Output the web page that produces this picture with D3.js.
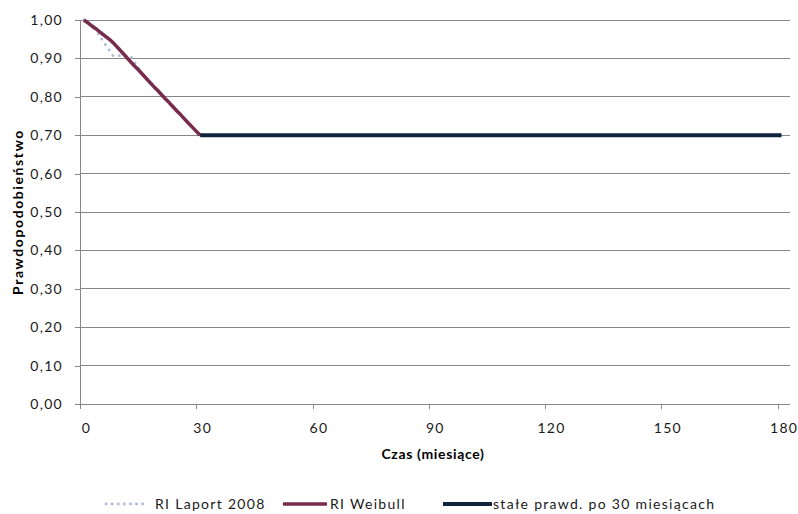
<!DOCTYPE html>
<html>
<head>
<meta charset="utf-8">
<script src="https://cdn.jsdelivr.net/npm/d3@7"></script>
<style>
  html, body { margin: 0; padding: 0; background: #ffffff; }
  svg { display: block; font-family: Lato, "Open Sans", sans-serif; }
</style>
</head>
<body>
<svg id="chart" width="798" height="514"></svg>
<script>
// Survival probability over time (months)
const weibullMonths = [1,2,3,4,5,6,7,8,9,10,11,12,13,14,15,16,17,18,19,20,21,22,23,24,25,26,27,28,29,30,31];
const weibullValues = [1.000,0.993,0.985,0.978,0.970,0.962,0.954,0.946,0.936,0.925,0.914,0.903,0.892,0.881,0.871,0.860,0.849,0.838,0.827,0.817,0.806,0.795,0.785,0.774,0.763,0.753,0.742,0.731,0.721,0.710,0.700];

const laportMonths = [1, 4, 5.5, 8.5, 13, 16, 20, 24, 28, 31];
const laportValues = [1.000, 0.975, 0.952, 0.907, 0.907, 0.860, 0.817, 0.774, 0.731, 0.700];

const constMonths = [31, 181];
const constValues = [0.70, 0.70];

const xTicks = [0, 30, 60, 90, 120, 150, 180];
const yTicks = [0, 0.1, 0.2, 0.3, 0.4, 0.5, 0.6, 0.7, 0.8, 0.9, 1.0];

const seriesNames = ["RI Laport 2008", "RI Weibull", "stałe prawd. po 30 miesiącach"];
const xTitle = "Czas (miesiące)";
const yTitle = "Prawdopodobieństwo";

const svg = d3.select("#chart");
const plot = { left: 80, right: 790, top: 20, bottom: 404 };

const x = d3.scaleLinear().domain([0, 183.2]).range([plot.left, plot.right]);
const y = d3.scaleLinear().domain([0, 1]).range([plot.bottom, plot.top]);

const pl = d3.formatLocale({ decimal: ",", thousands: " ", grouping: [3], currency: ["", " zł"] });
const fmt = pl.format(".2f");

const gridColor = "#878787";
const textColor = "#1a1a1a";
const spacing = 1.3;

// horizontal gridlines
svg.append("g")
  .selectAll("line")
  .data(yTicks.filter(d => d > 0))
  .join("line")
  .attr("x1", plot.left).attr("x2", plot.right)
  .attr("y1", d => y(d)).attr("y2", d => y(d))
  .attr("stroke", gridColor).attr("stroke-width", 1)
  .attr("shape-rendering", "crispEdges");

// axes
const yAxis = svg.append("g")
  .attr("transform", `translate(${plot.left},0)`)
  .call(d3.axisLeft(y).tickValues(yTicks).tickFormat(fmt).tickSize(5).tickPadding(12));
yAxis.select(".domain").attr("d", `M0,${plot.top}V${plot.bottom + 5}`);

const xAxis = svg.append("g")
  .attr("transform", `translate(0,${plot.bottom})`)
  .call(d3.axisBottom(x).tickValues(xTicks).tickFormat(d3.format("d")).tickSize(5).tickPadding(14));
xAxis.select(".domain").attr("d", `M${plot.left - 5},0H${plot.right}`);

[yAxis, xAxis].forEach(g => {
  g.selectAll(".domain, .tick line").attr("stroke", gridColor).attr("shape-rendering", "crispEdges");
  g.selectAll("text").attr("fill", textColor)
    .style("font-size", "14px").style("font-family", "Lato, sans-serif")
    .attr("letter-spacing", spacing);
});
xAxis.selectAll(".tick text").attr("dx", 6);

// axis titles
svg.append("text")
  .attr("x", 433).attr("y", 459)
  .attr("text-anchor", "middle")
  .attr("font-weight", "bold").attr("font-size", 14)
  .attr("letter-spacing", spacing * 0.5)
  .attr("fill", "#000")
  .text(xTitle);

svg.append("text")
  .attr("transform", `translate(23,${(plot.top + plot.bottom) / 2}) rotate(-90)`)
  .attr("text-anchor", "middle")
  .attr("font-weight", "bold").attr("font-size", 14)
  .attr("letter-spacing", 1.6)
  .attr("fill", "#000")
  .text(yTitle);

// series
const line = d3.line().x(d => x(d[0])).y(d => y(d[1]));

const laportData = laportMonths.map((m, i) => [m, laportValues[i]]);
const weibullData = weibullMonths.map((m, i) => [m, weibullValues[i]]);
const constData = constMonths.map((m, i) => [m, constValues[i]]);

const colors = ["#aabbdb", "#772c4d", "#10243f"];

svg.append("path").datum(laportData)
  .attr("d", line).attr("fill", "none")
  .attr("stroke", colors[0]).attr("stroke-width", 2.8)
  .attr("stroke-linecap", "round").attr("stroke-dasharray", "0.1 6.5");

svg.append("path").datum(weibullData)
  .attr("d", line).attr("fill", "none")
  .attr("stroke", colors[1]).attr("stroke-width", 3.5)
  .attr("stroke-linejoin", "round");

svg.append("path").datum(constData)
  .attr("d", line).attr("fill", "none")
  .attr("stroke", colors[2]).attr("stroke-width", 4);

// legend
const legendY = 504;
const legendItems = [
  { x0: 106, x1: 148, tx: 155, dash: "0.1 6", w: 2.8, cap: "round" },
  { x0: 283, x1: 327, tx: 330, dash: null, w: 3.5, cap: "butt" },
  { x0: 443, x1: 492, tx: 493, dash: null, w: 4, cap: "butt" }
];
const lg = svg.append("g");
legendItems.forEach((it, i) => {
  lg.append("line")
    .attr("x1", it.x0).attr("x2", it.x1)
    .attr("y1", legendY).attr("y2", legendY)
    .attr("stroke", colors[i]).attr("stroke-width", it.w)
    .attr("stroke-linecap", it.cap)
    .attr("stroke-dasharray", it.dash);
  lg.append("text")
    .attr("x", it.tx).attr("y", legendY)
    .attr("dy", "0.35em")
    .attr("font-size", 14).attr("fill", textColor)
    .attr("letter-spacing", spacing)
    .text(seriesNames[i]);
});
</script>
</body>
</html>
